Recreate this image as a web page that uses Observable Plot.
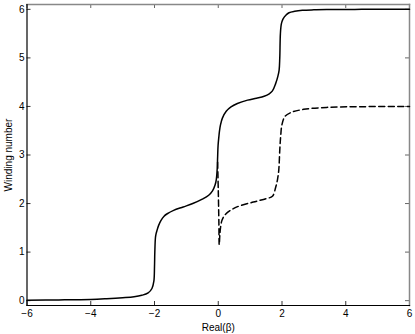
<!DOCTYPE html>
<html><head><meta charset="utf-8">
<script src="https://cdn.jsdelivr.net/npm/d3@7"></script>
<script src="https://cdn.jsdelivr.net/npm/@observablehq/plot@0.6"></script>
<style>body{margin:0;background:#fff}</style>
</head><body><div id="chart"></div>
<script>
const xTicks = [-6, -4, -2, 0, 2, 4, 6];
const yTicks = [0, 1, 2, 3, 4, 5, 6];

const solidX = [-6, -5, -4, -3.5, -3.0, -2.64, -2.4, -2.2, -2.08, -2.02, -2.0, -1.99, -1.97, -1.95, -1.92, -1.87, -1.8, -1.7, -1.6, -1.4, -1.1, -0.8, -0.5, -0.3, -0.18, -0.1, -0.06, -0.03, -0.02, -0.005, 0.02, 0.04, 0.07, 0.13, 0.25, 0.4, 0.6, 0.92, 1.2, 1.44, 1.6, 1.7, 1.8, 1.87, 1.91, 1.93, 1.95, 1.98, 2.03, 2.12, 2.22, 2.4, 2.64, 3.0, 3.4, 4.5, 6.0];
const solidY = [0.01, 0.015, 0.025, 0.04, 0.06, 0.08, 0.11, 0.16, 0.25, 0.4, 0.7, 1.0, 1.3, 1.38, 1.45, 1.55, 1.65, 1.74, 1.79, 1.86, 1.93, 2.0, 2.09, 2.17, 2.26, 2.38, 2.5, 2.75, 2.95, 3.2, 3.38, 3.5, 3.62, 3.76, 3.9, 3.99, 4.06, 4.13, 4.17, 4.21, 4.26, 4.32, 4.47, 4.62, 4.75, 5.0, 5.5, 5.7, 5.8, 5.88, 5.93, 5.96, 5.98, 5.99, 5.995, 6.0, 6.0];

const dashedX = [-0.02, 0.0, 0.02, 0.03, 0.05, 0.07, 0.12, 0.23, 0.55, 1.1, 1.5, 1.7, 1.8, 1.86, 1.9, 1.93, 1.96, 2.0, 2.1, 2.3, 2.68, 3.4, 4.5, 6.0];
const dashedY = [2.85, 2.3, 1.6, 1.15, 1.35, 1.5, 1.66, 1.78, 1.92, 2.03, 2.1, 2.15, 2.33, 2.5, 2.7, 3.1, 3.4, 3.63, 3.8, 3.88, 3.94, 3.98, 3.995, 4.0];

const solid = solidX.map((x, i) => ({x, y: solidY[i]}));
const dashed = dashedX.map((x, i) => ({x, y: dashedY[i]}));

const W = 415, H = 334, mL = 26.5, mR = 6, mT = 4, mB = 29;
const plotW = W - mL - mR, plotH = H - mT - mB, tick = 4;

const chart = Plot.plot({
  width: W, height: H,
  marginLeft: mL, marginRight: mR, marginTop: mT, marginBottom: mB,
  style: {fontFamily: "'Liberation Sans', Arial, sans-serif", fontSize: "10px", background: "#fff", color: "#000"},
  x: {domain: [-6, 6]},
  y: {domain: [-0.1, 6.1]},
  marks: [
    // inward tick marks on all four sides
    Plot.tickX(xTicks, {x: d => d, stroke: "#333", insetTop: plotH - tick}),
    Plot.tickX(xTicks, {x: d => d, stroke: "#666", insetBottom: plotH - tick}),
    Plot.tickY(yTicks, {y: d => d, stroke: "#333", insetRight: plotW - tick}),
    Plot.tickY(yTicks, {y: d => d, stroke: "#666", insetLeft: plotW - tick}),
    // box
    Plot.frame({anchor: "top", stroke: "#888", strokeWidth: 1.5}),
    Plot.frame({anchor: "right", stroke: "#888", strokeWidth: 1.5}),
    Plot.frame({anchor: "bottom", stroke: "#000", strokeWidth: 1.2}),
    Plot.frame({anchor: "left", stroke: "#000", strokeWidth: 1.2}),
    // labels
    Plot.axisX(xTicks, {anchor: "bottom", tickSize: 0, tickPadding: 4.5, label: "Real(β)", labelAnchor: "center", labelOffset: 25, labelArrow: "none"}),
    Plot.axisY(yTicks, {anchor: "left", tickSize: 0, tickPadding: 2.5, label: "Winding number", labelAnchor: "center", labelOffset: 22, labelArrow: "none"}),
    Plot.line(solid, {x: "x", y: "y", stroke: "#000", strokeWidth: 1.5, curve: "catmull-rom"}),
    Plot.line(dashed, {x: "x", y: "y", stroke: "#000", strokeWidth: 1.5, strokeDasharray: "6,3.5", curve: "catmull-rom"})
  ]
});
document.getElementById("chart").append(chart);
</script>
</body></html>
